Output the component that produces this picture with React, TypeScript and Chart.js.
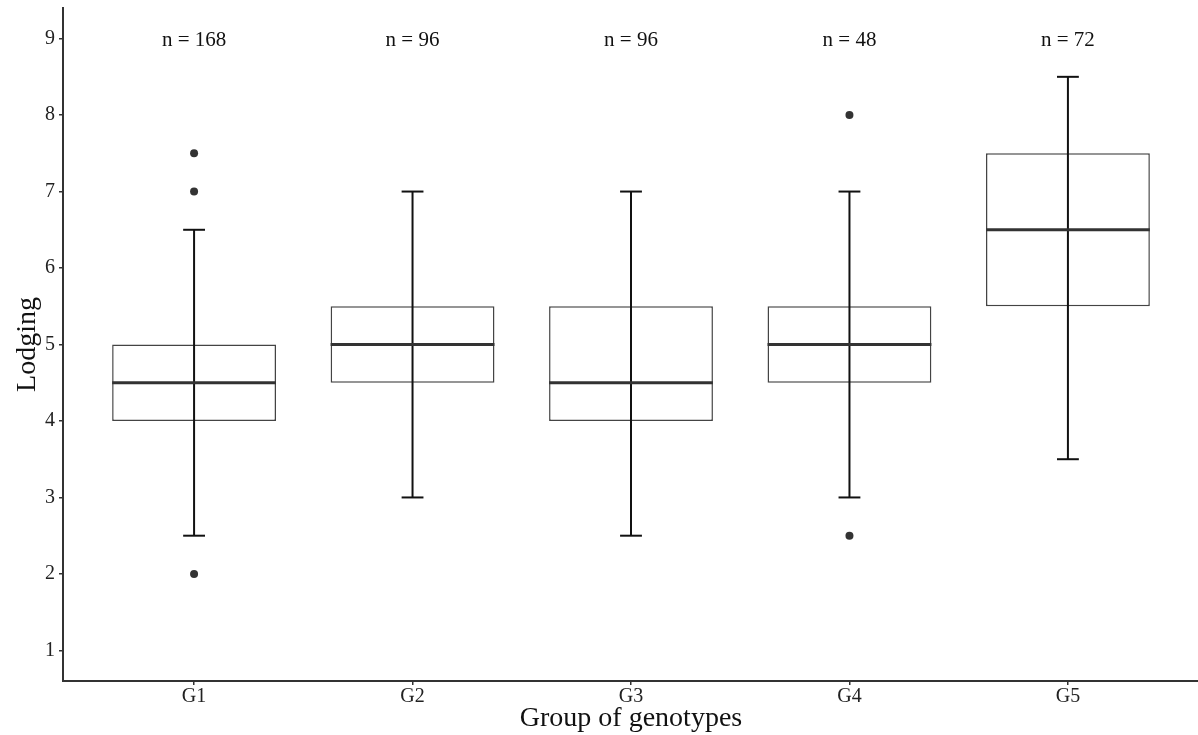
import React, { useEffect, useRef } from "react";
import { Chart, registerables } from "chart.js";

Chart.register(...registerables);

const groups = ["G1", "G2", "G3", "G4", "G5"];
const counts = [168, 96, 96, 48, 72];
const q1 = [4, 4.5, 4, 4.5, 5.5];
const medians = [4.5, 5, 4.5, 5, 6.5];
const q3 = [5, 5.5, 5.5, 5.5, 7.5];
const whiskerLow = [2.5, 3, 2.5, 3, 3.5];
const whiskerHigh = [6.5, 7, 7, 7, 8.5];
const outliers: number[][] = [[2, 7, 7.5], [], [], [8, 2.5], []];
const yTicks = [1, 2, 3, 4, 5, 6, 7, 8, 9];
const countLabelY = 9;

const FONT = "'Liberation Serif', 'Times New Roman', serif";
const INK = "#333333";

const boxplotPlugin = {
  id: "boxplotExtras",
  afterDatasetsDraw(chart: any) {
    const ctx = chart.ctx;
    const x = chart.scales.x;
    const y = chart.scales.y;
    const capHalf = 0.05;
    const boxHalf = 0.375;
    ctx.save();
    groups.forEach((_, i) => {
      const cx = x.getPixelForValue(i + 1);
      ctx.strokeStyle = "#111111";
      ctx.lineWidth = 2;
      ctx.beginPath();
      ctx.moveTo(cx, y.getPixelForValue(whiskerLow[i]));
      ctx.lineTo(cx, y.getPixelForValue(whiskerHigh[i]));
      ctx.stroke();
      const cl = x.getPixelForValue(i + 1 - capHalf);
      const cr = x.getPixelForValue(i + 1 + capHalf);
      [whiskerLow[i], whiskerHigh[i]].forEach((v) => {
        const py = y.getPixelForValue(v);
        ctx.beginPath();
        ctx.moveTo(cl, py);
        ctx.lineTo(cr, py);
        ctx.stroke();
      });
      const ml = x.getPixelForValue(i + 1 - boxHalf);
      const mr = x.getPixelForValue(i + 1 + boxHalf);
      const my = y.getPixelForValue(medians[i]);
      ctx.strokeStyle = INK;
      ctx.lineWidth = 3;
      ctx.beginPath();
      ctx.moveTo(ml, my);
      ctx.lineTo(mr, my);
      ctx.stroke();
      ctx.fillStyle = "#111111";
      ctx.font = `21px ${FONT}`;
      ctx.textAlign = "center";
      ctx.textBaseline = "middle";
      ctx.fillText(`n = ${counts[i]}`, cx, y.getPixelForValue(countLabelY) + 2);
    });
    ctx.restore();
  },
};

export default function App() {
  const ref = useRef<HTMLCanvasElement | null>(null);
  useEffect(() => {
    document.body.style.margin = "0";
    const canvas = ref.current;
    if (!canvas) return;
    const boxData = groups.map((_, i) => ({ x: i + 1, y: [q1[i], q3[i]] }));
    const outlierData: { x: number; y: number }[] = [];
    outliers.forEach((arr, i) => arr.forEach((v) => outlierData.push({ x: i + 1, y: v })));
    const chart = new Chart(canvas, {
      type: "bar",
      data: {
        datasets: [
          {
            type: "bar",
            label: "box",
            data: boxData as any,
            backgroundColor: "#ffffff",
            borderColor: "#444444",
            borderWidth: 1.5,
            borderSkipped: false,
            barPercentage: 0.75,
            categoryPercentage: 1,
            order: 2,
          } as any,
          {
            type: "scatter",
            label: "outliers",
            data: outlierData as any,
            pointRadius: 4,
            pointBackgroundColor: INK,
            pointBorderColor: INK,
            pointBorderWidth: 0,
            order: 1,
          } as any,
        ],
      },
      options: {
        animation: false,
        responsive: false,
        maintainAspectRatio: false,
        layout: { padding: 0 },
        plugins: {
          legend: { display: false },
          tooltip: { enabled: false },
        },
        scales: {
          x: {
            type: "linear",
            min: 0.4,
            max: 5.6,
            offset: false,
            afterBuildTicks: (s: any) => {
              s.ticks = groups.map((_, i) => ({ value: i + 1 }));
            },
            afterFit: (s: any) => {
              s.height = 54;
              s.paddingRight = 0;
            },
            ticks: {
              callback: (v: any) => groups[Number(v) - 1] ?? "",
              color: "#222222",
              font: { family: FONT, size: 20 },
              padding: 0,
              maxRotation: 0,
            },
            grid: {
              display: true,
              offset: false,
              drawOnChartArea: false,
              drawTicks: true,
              tickLength: 4,
              color: INK,
              lineWidth: 1.5,
            },
            border: { display: true, color: INK, width: 2 },
            title: {
              display: true,
              text: "Group of genotypes",
              color: "#111111",
              font: { family: FONT, size: 28 },
              padding: { top: 0, bottom: 0 },
            },
          },
          y: {
            type: "linear",
            min: 0.6,
            max: 9.4,
            afterBuildTicks: (s: any) => {
              s.ticks = yTicks.map((v) => ({ value: v }));
            },
            afterFit: (s: any) => {
              s.width = 63;
              s.paddingTop = 0;
            },
            ticks: {
              color: "#222222",
              font: { family: FONT, size: 20 },
              padding: 4,
            },
            grid: {
              display: true,
              drawOnChartArea: false,
              drawTicks: true,
              tickLength: 4,
              color: INK,
              lineWidth: 1.5,
            },
            border: { display: true, color: INK, width: 2 },
            title: {
              display: true,
              text: "Lodging",
              color: "#111111",
              font: { family: FONT, size: 28 },
              padding: { top: 11, bottom: 0 },
            },
          },
        },
      },
      plugins: [boxplotPlugin],
    });
    return () => chart.destroy();
  }, []);
  return (
    <div
      style={{
        position: "fixed",
        left: 0,
        top: 0,
        width: 1198,
        height: 735,
        overflow: "hidden",
        background: "#fff",
      }}
    >
      <canvas
        ref={ref}
        width={1203}
        height={731}
        style={{ position: "absolute", left: 0, top: 4, width: 1203, height: 731 }}
      />
    </div>
  );
}
